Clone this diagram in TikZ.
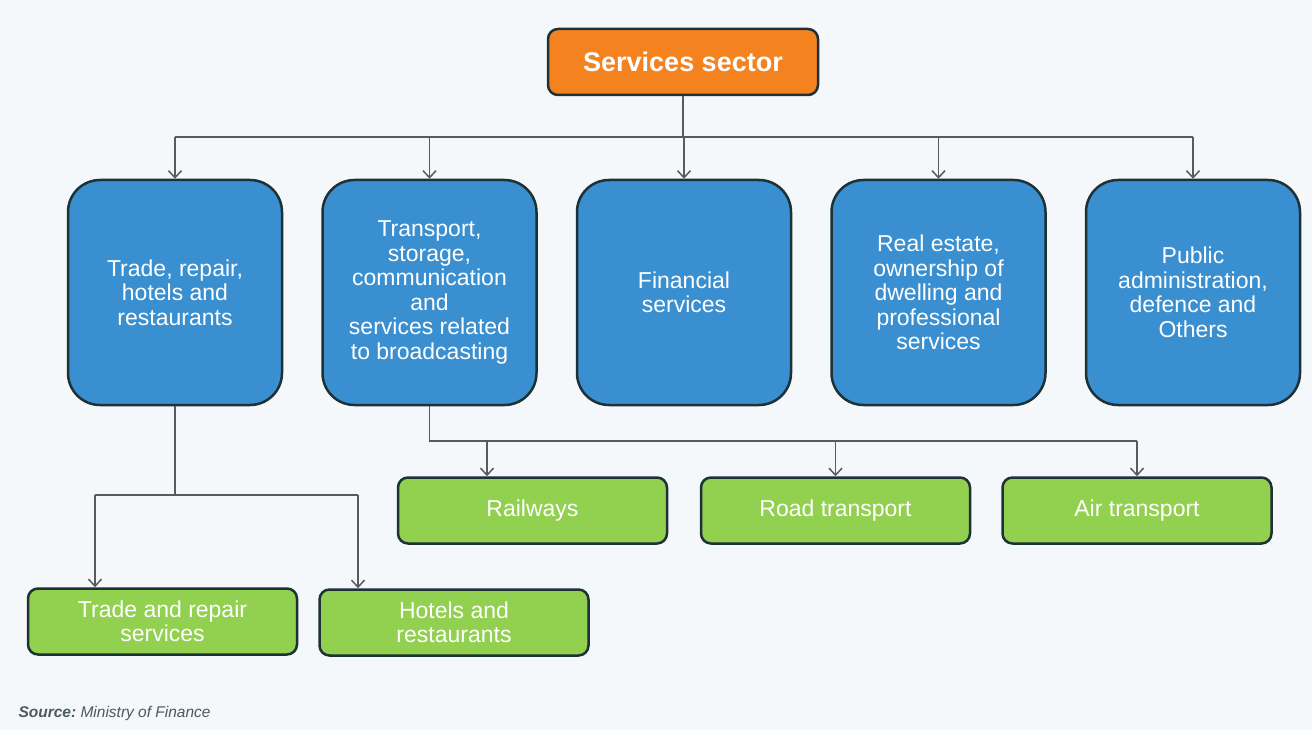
\documentclass[tikz,border=0pt]{standalone}
\usepackage{fontspec}
\setmainfont{Liberation Sans}
\usepackage{tikz}
\usetikzlibrary{arrows.meta}

\definecolor{bgcol}{HTML}{F4F8FA}
\definecolor{edgecol}{HTML}{1D3136}
\definecolor{linecol}{HTML}{555B5E}
\definecolor{sectorcol}{HTML}{F4831F}
\definecolor{branchcol}{HTML}{3A8FD0}
\definecolor{subcol}{HTML}{92D050}

\begin{document}
\begin{tikzpicture}[x=1pt, y=-1pt,
    sector/.style={draw=edgecol, line width=2.5pt, fill=sectorcol, rounded corners=10pt,
        minimum width=270pt, minimum height=66pt, inner sep=0pt, text=white,
        font=\fontsize{27}{29}\selectfont\bfseries},
    branch/.style={draw=edgecol, line width=2.5pt, fill=branchcol, rounded corners=32pt,
        minimum width=214pt, minimum height=225pt, inner sep=0pt, text=white, align=center,
        font=\fontsize{23}{24.5}\selectfont},
    sub/.style={draw=edgecol, line width=2.5pt, fill=subcol, rounded corners=10pt,
        minimum width=269pt, minimum height=66pt, inner sep=0pt, text=white, align=center,
        font=\fontsize{23}{24.5}\selectfont},
    link/.style={draw=linecol, line width=1.5pt},
    arr/.style={link, -{Straight Barb[length=7pt, width=13pt, line width=1.5pt]}}]

    % page
    \fill[bgcol] (0,0) rectangle (1312,730);
    \useasboundingbox (0,0) rectangle (1312,730);

    % boxes
    \node[sector] (top) at (683,62) {Services sector};

    \node[branch] (trade) at (175,292.5) {Trade, repair,\\hotels and\\restaurants};
    \node[branch] (transp) at (429.5,292.5) {Transport,\\storage,\\communication\\and\\services related\\to broadcasting};
    \node[branch] (fin) at (684,292.5) {Financial\\services};
    \node[branch] (real) at (938.5,292.5) {Real estate,\\ownership of\\dwelling and\\professional\\services};
    \node[branch] (pub) at (1193,292.5) {Public\\administration,\\defence and\\Others};

    \node[sub] (rail) at (532.5,510.5) {Railways};
    \node[sub] (road) at (835.5,510.5) {Road transport};
    \node[sub] (air) at (1137,510.5) {Air transport};

    \node[sub] (tradesub) at (162.5,621.5) {Trade and repair\\services};
    \node[sub] (hotel) at (454,622.5) {Hotels and\\restaurants};

    % connectors from the sector
    \coordinate (busA) at (683,137);
    \draw[link] (top.south) -- (busA);
    \draw[link] (trade.north |- busA) -- (pub.north |- busA);
    \foreach \b in {trade,transp,fin,real,pub}
        \draw[arr] (\b.north |- busA) -- (\b.north);

    % connectors from transport
    \coordinate (busB) at (429.5,441);
    \coordinate (railIn) at (487,441);
    \draw[link] (transp.south) -- (busB) -- (busB -| air.north);
    \draw[arr] (railIn) -- (railIn |- rail.north);
    \draw[arr] (busB -| road.north) -- (road.north);
    \draw[arr] (busB -| air.north) -- (air.north);

    % connectors from trade
    \coordinate (busC) at (175,495);
    \coordinate (tradeIn) at (95,495);
    \coordinate (hotelIn) at (358,495);
    \draw[link] (trade.south) -- (busC);
    \draw[link] (tradeIn) -- (hotelIn);
    \draw[arr] (tradeIn) -- (tradeIn |- tradesub.north);
    \draw[arr] (hotelIn) -- (hotelIn |- hotel.north);

    % source
    \node[anchor=west, text=edgecol!80, font=\fontsize{15.5}{17}\selectfont\itshape] (src) at (15,713)
        {\textbf{Source:}~Ministry of Finance};
\end{tikzpicture}
\end{document}
